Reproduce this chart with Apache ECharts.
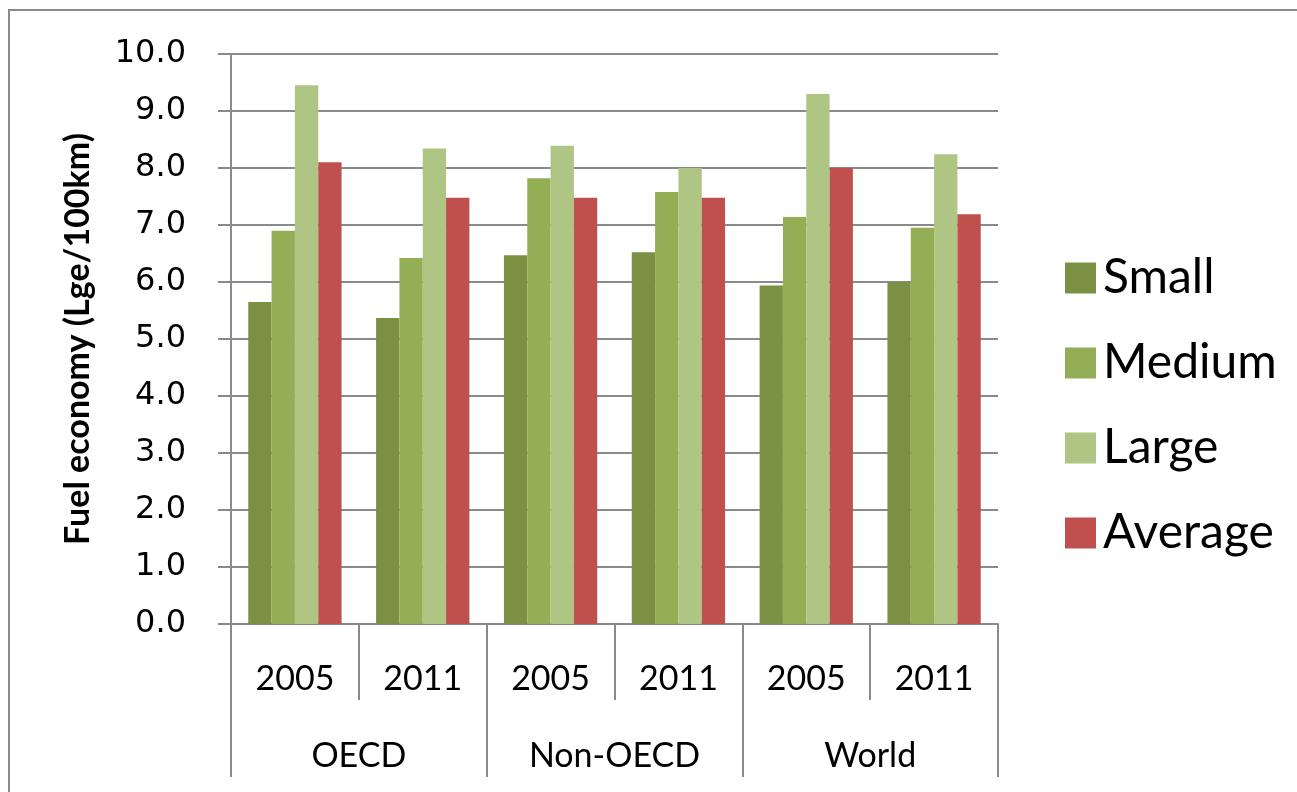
<!DOCTYPE html>
<html>
<head>
<meta charset="utf-8">
<script src="https://cdn.jsdelivr.net/npm/echarts@6/dist/echarts.min.js"></script>
<style>
  html, body { margin: 0; padding: 0; background: #fff; }
  #chart { width: 1297px; height: 792px; }
</style>
</head>
<body>
<div id="chart"></div>
<script>
// data
const years = ['2005', '2011', '2005', '2011', '2005', '2011']
const regions = ['OECD', 'Non-OECD', 'World']
const small = [5.65, 5.37, 6.47, 6.52, 5.94, 6.00]
const medium = [6.90, 6.42, 7.82, 7.58, 7.14, 6.95]
const large = [9.45, 8.34, 8.39, 8.00, 9.30, 8.24]
const average = [8.10, 7.48, 7.48, 7.48, 8.00, 7.19]

const chart = echarts.init(document.getElementById('chart'))

const lineGray = '#8a8a8a'
const labelFont = 'Lato'

const mkBar = (name, data, color) => ({
    name,
    type: 'bar',
    data,
    barGap: '0%',
    barCategoryGap: '27%',
    itemStyle: { color },
    emphasis: { disabled: true }
})

const option = {
    animation: false,
    grid: { left: 231, right: 299, top: 54, bottom: 168 },
    graphic: [
        // outer chart border
        {
            type: 'rect',
            shape: { x: 9, y: 10, width: 1400, height: 900 },
            style: { fill: 'none', stroke: lineGray, lineWidth: 2 }
        }
    ],
    legend: {
        orient: 'vertical',
        left: 1060,
        top: 249,
        itemWidth: 31,
        itemHeight: 31,
        itemGap: 37,
        icon: 'rect',
        textStyle: { fontFamily: labelFont, fontSize: 48, color: '#000', padding: [0, 0, 0, 2] }
    },
    xAxis: [
        {
            type: 'category',
            position: 'bottom',
            data: years,
            axisLine: { show: true, lineStyle: { color: lineGray, width: 2 } },
            axisTick: { show: true, interval: 0, length: 76, lineStyle: { color: lineGray, width: 2 } },
            axisLabel: { fontFamily: labelFont, fontSize: 34, color: '#000', margin: 38 }
        },
        {
            type: 'category',
            position: 'bottom',
            data: regions,
            axisLine: { show: false },
            axisTick: { show: true, interval: 0, length: 153, lineStyle: { color: lineGray, width: 2 } },
            axisLabel: { fontFamily: labelFont, fontSize: 34, color: '#000', margin: 115 }
        }
    ],
    yAxis: {
        type: 'value',
        min: 0,
        max: 10,
        interval: 1,
        name: 'Fuel economy (Lge/100km)',
        nameLocation: 'middle',
        nameGap: 136,
        nameTextStyle: { fontFamily: labelFont, fontWeight: 'bold', fontSize: 34, color: '#000' },
        axisLine: { show: true, lineStyle: { color: lineGray, width: 2 } },
        axisTick: { show: true, length: 13, lineStyle: { color: lineGray, width: 2 } },
        axisLabel: {
            fontFamily: 'DejaVu Sans',
            fontSize: 32,
            color: '#000',
            margin: 45,
            formatter: v => v.toFixed(1)
        },
        splitLine: { lineStyle: { color: lineGray, width: 2 } }
    },
    series: [
        mkBar('Small', small, '#7a9144'),
        mkBar('Medium', medium, '#93ae54'),
        mkBar('Large', large, '#afc584'),
        mkBar('Average', average, '#c0504d')
    ]
}
chart.setOption(option)
window.addEventListener('resize', () => {
    chart.resize()
})
</script>
</body>
</html>
